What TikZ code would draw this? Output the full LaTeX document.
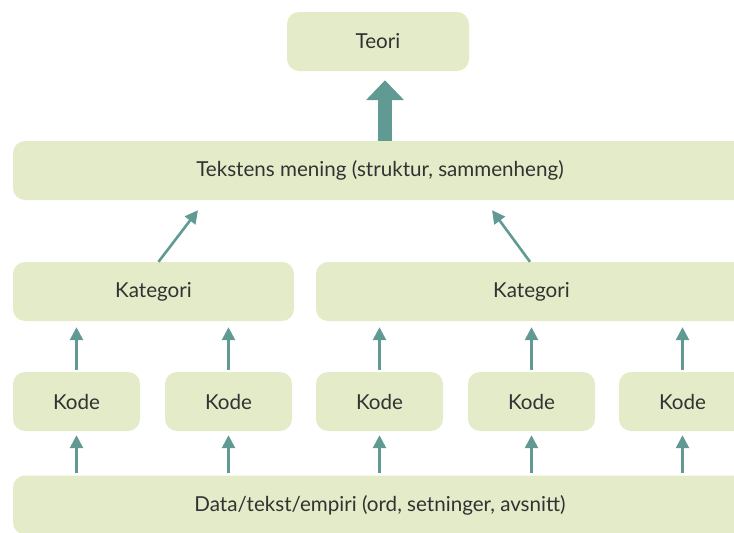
\documentclass[tikz,border=0pt]{standalone}
\usepackage{fontspec}
\setmainfont{Lato}
\usetikzlibrary{arrows.meta,calc}
\definecolor{boxfill}{RGB}{228,235,200}
\definecolor{arrowc}{RGB}{96,154,147}
\definecolor{txt}{RGB}{50,50,50}
\begin{document}
\begin{tikzpicture}[x=1pt,y=-1pt,
  box/.style={fill=boxfill,draw=none,rounded corners=12pt,inner sep=0pt,
    minimum height=59pt,text=txt,font=\fontsize{20.6}{24}\selectfont},
  up/.style={draw=arrowc,line width=2.6pt,-{Triangle[length=13pt,width=13pt]}},
  bigup/.style={draw=arrowc,line width=14pt,-{Triangle[length=20pt,width=37pt]}}]
\useasboundingbox (0,0) rectangle (734,533);
\begin{scope}
\clip (0,0) rectangle (734,533);
\node[box,minimum width=182pt] (teori) at (378,41.5) {Teori};
\node[box,minimum width=734pt] (mening) at (380,170.5) {Tekstens mening (struktur, sammenheng)};
\node[box,minimum width=281pt] (kat1) at (153.5,291.5) {Kategori};
\node[box,minimum width=431pt] (kat2) at (531.5,291.5) {Kategori};
\node[box,minimum width=127pt] (k1) at (76.5,401.5) {Kode};
\node[box,minimum width=127pt] (k2) at (228.5,401.5) {Kode};
\node[box,minimum width=127pt] (k3) at (379.5,401.5) {Kode};
\node[box,minimum width=127pt] (k4) at (531.5,401.5) {Kode};
\node[box,minimum width=127pt] (k5) at (682.5,401.5) {Kode};
\node[box,minimum width=734pt] (data) at (380,505) {Data/tekst/empiri (ord, setninger, avsnitt)};
\end{scope}
\draw[bigup,shorten >=9pt] (mening.north -| 385,0) -- (teori.south -| 385,0);
\foreach \k/\c in {k1/kat1,k2/kat1,k3/kat2,k4/kat2,k5/kat2}{
  \draw[up,shorten <=2pt,shorten >=6pt] (\k.north) -- (\k.north |- \c.south);
}
\foreach \k in {k1,k2,k3,k4,k5}{
  \draw[up,shorten <=2pt,shorten >=4pt] (\k.south |- data.north) -- (\k.south);
}
\draw[up,shorten >=12.6pt] ([xshift=5pt]kat1.north) -- ($(mening.south)+(-174.4,0)$);
\draw[up,shorten >=12.4pt] ([xshift=-1.5pt]kat2.north) -- ($(mening.south)+(104.7,0)$);
\end{tikzpicture}
\end{document}
